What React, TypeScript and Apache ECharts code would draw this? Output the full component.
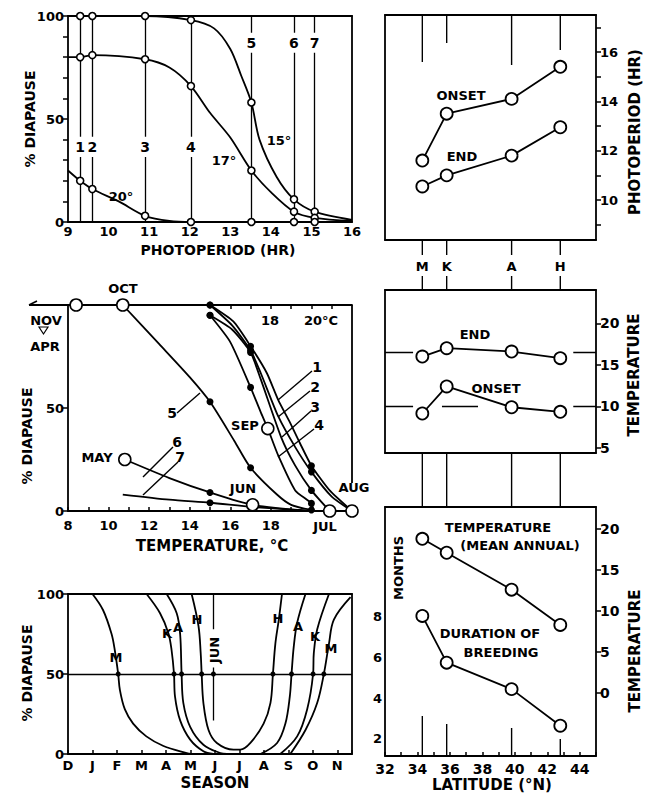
import React, { useEffect, useRef } from 'react';
import * as echarts from 'echarts';

const INK = '#000';
const FONT = '"DejaVu Sans", "Liberation Sans", sans-serif';

// ---------------- Panel 1: % diapause vs photoperiod ----------------
const photoperiods = [9.3, 9.6, 10.9, 12.03, 13.52, 14.57, 15.08];
const photoperiodIds = ['1', '2', '3', '4', '5', '6', '7'];
const photoperiodIdLevel = [36.5, 36.5, 36.5, 36.5, 87, 87, 87];
const diapauseAt15 = [100, 100, 100, 98, 58, 11, 5];
const diapauseAt17 = [80, 81, 79, 66, 25, 5, 2];
const diapauseAt20 = [20, 16, 3, 0, 0, 0, 0];
// extra points
const curveAt15Trace = [[9, 100], [12.6, 94], [13, 84], [13.27, 71], [13.72, 40], [14.14, 22], [16, 1]];
const curveAt17Trace = [[9, 80], [11.5, 75], [12.5, 53], [13, 41], [14, 14.5], [16, 0.5]];
const curveAt20Trace = [[9, 25], [10.25, 10], [11.5, 0.5], [16, 0]];

// ---------------- Panel 2: % diapause vs temperature ----------------
const labTemps = [15, 17, 20];
const lab1 = [100, 80, 22];
const lab2 = [100, 78, 19];
const lab3 = [95, 77, 10];
const lab4 = [95, 60, 3.7];
const lab5 = [53, 21, 0.5];
const lab6 = [9];
const lab7 = [4];
const fieldMonths = ['NOV/APR', 'OCT', 'MAY', 'JUN', 'SEP', 'JUL', 'AUG'];
const fieldTemps = [8.4, 10.7, 10.8, 17.1, 17.85, 20.9, 22];
const fieldDiapause = [100, 100, 25, 3, 40, 0, 0];
const trace1 = [[16.15, 92], [17.8, 67], [18.36, 54], [18.94, 43], [19.43, 33], [20.9, 10], [22, 0]];
const trace2 = [[16.1, 90], [17.5, 67], [18.36, 46], [19.2, 31], [21, 7], [22, 0]];
const trace3 = [[16.1, 88], [17.5, 64], [18.5, 36], [19.2, 22], [20.9, 0]];
const trace4 = [[16, 82], [17.5, 48], [17.85, 40], [18.36, 27], [19.2, 10], [20.1, 0]];
const trace5 = [[10.7, 100], [12.5, 81], [14, 65], [16.2, 34], [18.3, 8], [19, 3]];
const trace6 = [[10.8, 25], [13, 16], [17.1, 3], [20, 0]];
const trace7 = [[10.7, 8], [13, 5.5], [17.1, 2], [20, 0]];

// ---------------- Panel 3: % diapause over the season ----------------
const monthLetters = ['D', 'J', 'F', 'M', 'A', 'M', 'J', 'J', 'A', 'S', 'O', 'N'];
const seasonLeftM = [[1.0, 100], [1.43, 90], [1.78, 75], [1.91, 65], [2.05, 50], [2.12, 40], [2.32, 28], [2.66, 19], [3.2, 11], [3.9, 5], [4.85, 0.6], [5.05, 0]];
const seasonLeftK = [[3.21, 100], [3.76, 88], [4.1, 75.5], [4.23, 65], [4.33, 50], [4.37, 36], [4.58, 21], [4.99, 9], [5.53, 1.7], [5.94, 0]];
const seasonLeftA = [[4.03, 100], [4.44, 88], [4.58, 75], [4.64, 50], [4.71, 32], [4.99, 17], [5.53, 5.8], [6.22, 0.6], [6.49, 0]];
const seasonH = [[5.05, 100], [5.33, 80], [5.42, 63], [5.46, 50], [5.53, 32], [5.74, 15], [6.08, 6.9], [6.76, 2.7], [7.04, 2.7], [7.45, 6.9], [7.99, 19], [8.27, 32], [8.37, 50], [8.47, 69], [8.61, 84], [8.74, 100]];
const seasonRightA = [[7.86, 0], [8.54, 6.9], [8.88, 19], [9.06, 36], [9.13, 50], [9.22, 67], [9.36, 82], [9.7, 100]];
const seasonRightK = [[8.67, 0], [9.36, 11], [9.77, 28], [10.01, 50], [10.04, 63], [10.18, 78], [10.66, 100]];
const seasonRightM = [[9.08, 0], [9.7, 15], [10.18, 32], [10.45, 50], [10.66, 69], [10.86, 84], [11.54, 98]];
const halfDiapauseDates = [2.05, 4.33, 4.64, 5.46, 5.94, 8.37, 9.13, 10.01, 10.45];
const juneLine = 5.94;

// ---------------- Right column: by site latitude ----------------
const sites = ['M', 'K', 'A', 'H'];
const siteLatitude = [34.3, 35.8, 39.8, 42.8];
const onsetPhotoperiod = [11.6, 13.5, 14.1, 15.4];
const endPhotoperiod = [10.55, 11.0, 11.8, 12.95];
const endTemperature = [16.0, 17.0, 16.6, 15.8];
const onsetTemperature = [9.15, 12.4, 9.9, 9.35];
const meanAnnualTemperature = [18.8, 17.1, 12.6, 8.3];
const breedingMonths = [8.05, 5.75, 4.45, 2.65];
const refDashes = [[32, 33.73, 10], [35.51, 37.73, 10], [43.6, 45, 10], [32, 33.73, 16.55], [43.6, 45, 16.55]];

// ---------------- layout ----------------
const G = [
  { left: 68, top: 16, width: 284, height: 206 },
  { left: 68, top: 305, width: 284, height: 206 },
  { left: 68, top: 594, width: 284, height: 160 },
  { left: 385, top: 15, width: 211, height: 225 },
  { left: 385, top: 290, width: 211, height: 163 },
  { left: 385, top: 507, width: 211, height: 249 },
];
const siteTopTick = [47, 28, 50, 35];
const siteBottomTick = [40, 32, 28, 17];

const zip = (xs: number[], ys: number[]) => xs.map((x, i) => [x, ys[i]]);
const sortPts = (p: number[][]) => p.slice().sort((a, b) => a[0] - b[0]);

const LW = 1.8;
const AXL = { show: true, onZero: false, lineStyle: { color: INK, width: LW } };
const lab = (size = 13, extra: any = {}) => ({ color: INK, fontFamily: FONT, fontWeight: 'bold', fontSize: size, ...extra });
const tickStyle = { color: INK, width: 1.5 };

function frame(gridIndex: number, position: string, min: number, max: number) {
  return {
    type: 'value', gridIndex, position, min, max, axisLine: AXL,
    axisTick: { show: false }, axisLabel: { show: false }, splitLine: { show: false },
  };
}

function curve(xi: number, yi: number, data: number[][], smooth = 0.35) {
  return {
    type: 'line', xAxisIndex: xi, yAxisIndex: yi, data, smooth, symbol: 'none', showSymbol: false,
    lineStyle: { color: INK, width: LW }, clip: false, silent: true, z: 3,
  };
}
function dots(xi: number, yi: number, data: number[][], open: boolean, size: number) {
  return {
    type: 'scatter', xAxisIndex: xi, yAxisIndex: yi, data, symbol: 'circle', symbolSize: size, clip: false, silent: true, z: 6,
    itemStyle: open ? { color: '#fff', borderColor: INK, borderWidth: 1.6, opacity: 1 } : { color: INK, opacity: 1 },
  };
}
function siteLine(xi: number, yi: number, ys: number[]) {
  return {
    type: 'line', xAxisIndex: xi, yAxisIndex: yi, data: zip(siteLatitude, ys), smooth: false,
    symbol: 'circle', symbolSize: 12, showSymbol: true, clip: false, silent: true, z: 5,
    lineStyle: { color: INK, width: LW }, itemStyle: { color: '#fff', borderColor: INK, borderWidth: 1.8 },
  };
}
function segs(xi: number, yi: number, coords: number[][][], width = 1.4) {
  return {
    type: 'lines', coordinateSystem: 'cartesian2d', xAxisIndex: xi, yAxisIndex: yi, polyline: false, silent: true,
    data: coords.map((c) => ({ coords: c })), lineStyle: { color: INK, width, opacity: 1, curveness: 0 }, symbol: 'none', z: 2,
  };
}

function buildOption() {
  const xAxis = [
    { type: 'value', gridIndex: 0, position: 'bottom', min: 9, max: 16, interval: 1, axisLine: AXL, axisTick: { show: false }, splitLine: { show: false }, axisLabel: lab(13, { margin: 3 }) },
    frame(0, 'top', 9, 16),
    { type: 'value', gridIndex: 1, position: 'bottom', min: 8, max: 22, interval: 1, axisLine: AXL, splitLine: { show: false },
      axisTick: { show: true, inside: true, length: 4, lineStyle: tickStyle },
      axisLabel: lab(13, { margin: 8, formatter: (v: number) => (v % 2 === 0 && v <= 18 ? String(v) : '') }) },
    { type: 'value', gridIndex: 1, position: 'top', min: 8, max: 22, axisLine: AXL, splitLine: { show: false },
      axisTick: { show: true, inside: true, length: 4, lineStyle: tickStyle, customValues: [16, 17, 18, 19, 20, 21] }, axisLabel: { show: false } },
    { type: 'value', gridIndex: 2, position: 'bottom', min: 0, max: 11.6, interval: 1, axisLine: AXL, splitLine: { show: false },
      axisTick: { show: true, inside: true, length: 4, lineStyle: tickStyle },
      axisLabel: lab(13, { margin: 5, formatter: (v: number) => monthLetters[v] ?? '' }) },
    frame(2, 'top', 0, 11.6),
    frame(3, 'bottom', 32, 45),
    frame(3, 'top', 32, 45),
    frame(4, 'bottom', 32, 45),
    frame(4, 'top', 32, 45),
    { type: 'value', gridIndex: 5, position: 'bottom', min: 32, max: 45, interval: 1, axisLine: AXL, splitLine: { show: false },
      axisTick: { show: true, inside: true, length: 4, lineStyle: tickStyle },
      axisLabel: lab(14, { margin: 6, formatter: (v: number) => (v % 2 === 0 ? String(v) : '') }) },
    frame(5, 'top', 32, 45),
  ];
  const yAxis = [
    { type: 'value', gridIndex: 0, position: 'left', min: 0, max: 100, axisLine: AXL, splitLine: { show: false },
      axisTick: { show: true, length: 5, lineStyle: tickStyle, customValues: [0, 10, 20, 30, 40, 50, 60, 70, 80, 90, 100] },
      axisLabel: lab(13, { margin: 4, customValues: [0, 50, 100] }) },
    frame(0, 'right', 0, 100),
    { type: 'value', gridIndex: 1, position: 'left', min: 0, max: 100, axisLine: AXL, splitLine: { show: false },
      axisTick: { show: true, length: 5, lineStyle: tickStyle, customValues: [0, 50] },
      axisLabel: lab(13, { margin: 4, customValues: [0, 50] }) },
    { type: 'value', gridIndex: 1, position: 'right', min: 0, max: 100, axisLine: { show: false }, axisTick: { show: false }, axisLabel: { show: false }, splitLine: { show: false } },
    { type: 'value', gridIndex: 2, position: 'left', min: 0, max: 100, axisLine: AXL, splitLine: { show: false },
      axisTick: { show: true, length: 5, lineStyle: tickStyle, customValues: [0, 50, 100] },
      axisLabel: lab(13, { margin: 4, customValues: [0, 50, 100] }) },
    frame(2, 'right', 0, 100),
    frame(3, 'left', 8.38, 17.5),
    { type: 'value', gridIndex: 3, position: 'right', min: 8.38, max: 17.5, axisLine: AXL, splitLine: { show: false },
      axisTick: { show: true, length: 5, lineStyle: tickStyle, customValues: [9, 10, 11, 12, 13, 14, 15, 16, 17] },
      axisLabel: lab(13, { margin: 4, customValues: [10, 12, 14, 16] }) },
    frame(4, 'left', 4.4, 24),
    { type: 'value', gridIndex: 4, position: 'right', min: 4.4, max: 24, axisLine: AXL, splitLine: { show: false },
      axisTick: { show: true, length: 5, lineStyle: tickStyle, customValues: [5, 10, 15, 20] },
      axisLabel: lab(14, { margin: 4, customValues: [5, 10, 15, 20] }) },
    { type: 'value', gridIndex: 5, position: 'left', min: 1.16, max: 13.41, axisLine: AXL, splitLine: { show: false },
      axisTick: { show: false },
      axisLabel: lab(13, { margin: 3, customValues: [2, 4, 6, 8] }) },
    { type: 'value', gridIndex: 5, position: 'right', min: -7.68, max: 22.68, axisLine: AXL, splitLine: { show: false },
      axisTick: { show: true, length: 5, lineStyle: tickStyle, customValues: [0, 5, 10, 15, 20] },
      axisLabel: lab(14, { margin: 4, customValues: [0, 5, 10, 15, 20] }) },
  ];

  const treatmentSegs = photoperiods.flatMap((x, i) => [
    [[x, 0], [x, photoperiodIdLevel[i] - 4.9]],
    [[x, photoperiodIdLevel[i] + 4.9], [x, 100]],
  ]);

  const labPts = [
    ...zip(labTemps, lab1), ...zip(labTemps, lab2), ...zip(labTemps, lab3), ...zip(labTemps, lab4),
    ...zip(labTemps, lab5), ...zip(labTemps.slice(0, 1), lab6), ...zip(labTemps.slice(0, 1), lab7),
  ];

  const series: any[] = [
    // panel 1
    segs(0, 0, treatmentSegs, 1.3),
    curve(0, 0, sortPts([...zip(photoperiods, diapauseAt15), ...curveAt15Trace]), 0.3),
    curve(0, 0, sortPts([...zip(photoperiods, diapauseAt17), ...curveAt17Trace]), 0.3),
    curve(0, 0, sortPts([...zip(photoperiods, diapauseAt20), ...curveAt20Trace]), 0.3),
    dots(0, 0, [...zip(photoperiods, diapauseAt15), ...zip(photoperiods, diapauseAt17), ...zip(photoperiods, diapauseAt20)], true, 7),
    // panel 2
    curve(2, 2, sortPts([...zip(labTemps, lab1), ...trace1]), 0.2),
    curve(2, 2, sortPts([...zip(labTemps, lab2), ...trace2]), 0.2),
    curve(2, 2, sortPts([...zip(labTemps, lab3), ...trace3]), 0.2),
    curve(2, 2, sortPts([...zip(labTemps, lab4), ...trace4]), 0.2),
    curve(2, 2, sortPts([...zip(labTemps, lab5), ...trace5]), 0.25),
    curve(2, 2, sortPts([...zip(labTemps.slice(0, 1), lab6), ...trace6]), 0.25),
    curve(2, 2, sortPts([...zip(labTemps.slice(0, 1), lab7), ...trace7]), 0.25),
    dots(2, 2, labPts, false, 7),
    dots(2, 2, zip(fieldTemps, fieldDiapause), true, 12),
    // panel 3
    {
      ...curve(4, 4, seasonLeftM),
      markLine: { silent: true, symbol: 'none', label: { show: false }, lineStyle: { color: INK, width: 1.3, type: 'solid' }, data: [{ yAxis: 50 }] },
    },
    curve(4, 4, seasonLeftK),
    curve(4, 4, seasonLeftA),
    curve(4, 4, seasonH),
    curve(4, 4, seasonRightA),
    curve(4, 4, seasonRightK),
    curve(4, 4, seasonRightM),
    segs(4, 4, [[[juneLine, 100], [juneLine, 78]], [[juneLine, 54], [juneLine, 21]]], 1.3),
    dots(4, 4, halfDiapauseDates.map((d) => [d, 50]), false, 5),
    // right column
    siteLine(6, 7, onsetPhotoperiod),
    siteLine(6, 7, endPhotoperiod),
    segs(8, 9, refDashes.map((d) => [[d[0], d[2]], [d[1], d[2]]]), 1.4),
    siteLine(8, 9, endTemperature),
    siteLine(8, 9, onsetTemperature),
    siteLine(10, 11, meanAnnualTemperature),
    siteLine(10, 10, breedingMonths),
  ];

  return {
    animation: false,
    backgroundColor: '#fff',
    grid: G.map((g) => ({ ...g, containLabel: false, outerBoundsMode: 'none', show: false })),
    xAxis,
    yAxis,
    series,
  };
}

const T = (text: string, x: number, y: number, size = 13, rot = 0) => ({
  type: 'text', x, y, rotation: rot, z: 20, silent: true,
  style: { text, fill: INK, font: `bold ${size}px ${FONT}`, textAlign: 'center', textVerticalAlign: 'middle', align: 'center', verticalAlign: 'middle' },
});
const L = (x1: number, y1: number, x2: number, y2: number, w = 1.4) => ({
  type: 'line', z: 15, silent: true, shape: { x1, y1, x2, y2 }, style: { stroke: INK, lineWidth: w },
});

function buildGraphic(chart: any) {
  const R = Math.PI / 2;
  const els: any[] = [];
  // panel 1
  els.push(T('% DIAPAUSE', 30, 119, 14, R));
  els.push(T('PHOTOPERIOD (HR)', 218, 250, 14));
  els.push(T('15°', 279, 140, 13), T('17°', 224, 160, 13), T('20°', 121, 196, 13));
  photoperiods.forEach((p, i) => {
    const x = chart.convertToPixel({ xAxisIndex: 0 }, p);
    const y = chart.convertToPixel({ yAxisIndex: 0 }, photoperiodIdLevel[i]);
    els.push(T(photoperiodIds[i], x, y, 14));
  });
  // panel 2
  els.push(T('% DIAPAUSE', 27, 436, 14, R));
  els.push(T('TEMPERATURE, °C', 212, 546, 15));
  els.push(T('OCT', 123, 288), T('NOV', 46, 320), T('APR', 45, 346));
  els.push({ type: 'polygon', z: 15, silent: true, shape: { points: [[39, 327], [48, 327], [43.5, 334]] }, style: { fill: '#fff', stroke: INK, lineWidth: 1.2 } });
  els.push(L(29, 305, 68, 305, 1.8));
  els.push({ type: 'polyline', z: 15, silent: true, shape: { points: [[37, 301], [29, 305]] }, style: { stroke: INK, lineWidth: 1.6, fill: 'none' } });
  els.push(L(352, 305, 352, 483, 1.8));
  els.push(T('SEP', 245, 425), T('MAY', 97, 457), T('JUN', 243, 488), T('JUL', 325, 526), T('AUG', 354, 487));
  els.push(T('5', 172, 413, 14), T('6', 177, 442, 14), T('7', 180, 457, 14));
  els.push(T('1', 317, 367, 14), T('2', 315, 387, 14), T('3', 315, 407, 14), T('4', 319, 425, 14));
  els.push(L(177, 413, 200, 393), L(143, 477, 173, 447), L(143, 495, 178, 462));
  els.push(L(278, 400, 312, 371), L(278, 417, 310, 391), L(282, 437, 311, 411), L(278, 457, 314, 429));
  els.push(T('18', 270, 320, 13), T('20°C', 321, 320, 13));
  // panel 3
  els.push(T('% DIAPAUSE', 27, 673, 14, R));
  els.push(T('SEASON', 215, 783, 15));
  els.push(T('M', 116, 657), T('K', 167, 633), T('A', 178, 627), T('H', 197, 619));
  els.push(T('JUN', 214, 650, 13, R));
  els.push(T('H', 278, 618), T('A', 298, 626), T('K', 315, 636), T('M', 331, 648));
  // right column
  els.push(T('ONSET', 461, 95), T('END', 462, 156));
  els.push(T('PHOTOPERIOD (HR)', 635, 132, 15, R));
  els.push(T('END', 475, 334), T('ONSET', 496, 388));
  els.push(T('TEMPERATURE', 634, 375, 15, R));
  els.push(T('TEMPERATURE', 498, 527), T('(MEAN ANNUAL)', 520, 545));
  els.push(T('MONTHS', 398, 568, 13, R));
  els.push(T('DURATION OF', 490, 633), T('BREEDING', 501, 652));
  els.push(T('TEMPERATURE', 635, 651, 15, R));
  els.push(T('LATITUDE (°N)', 492, 785, 15));
  const g4 = G[3], g5 = G[4], g6 = G[5];
  const b4 = g4.top + g4.height, b5 = g5.top + g5.height, b6 = g6.top + g6.height;
  siteLatitude.forEach((lat, i) => {
    const x = chart.convertToPixel({ xAxisIndex: 6 }, lat);
    els.push(L(x, g4.top, x, g4.top + siteTopTick[i]));
    els.push(L(x, b4, x, b4 + 15));
    els.push(T(sites[i], x, b4 + 26, 13));
    els.push(L(x, b4 + 36, x, g5.top));
    els.push(L(x, b5, x, g6.top));
    els.push(L(x, b6 - siteBottomTick[i], x, b6));
  });
  return els;
}

export default function App() {
  const ref = useRef<HTMLDivElement>(null);
  useEffect(() => {
    const chart = echarts.init(ref.current!, null, { renderer: 'svg' });
    chart.setOption(buildOption() as any);
    chart.setOption({ graphic: { elements: buildGraphic(chart) } } as any);
    return () => chart.dispose();
  }, []);
  return <div ref={ref} style={{ position: 'fixed', left: 0, top: 0, width: 646, height: 794, background: '#fff' }} />;
}
